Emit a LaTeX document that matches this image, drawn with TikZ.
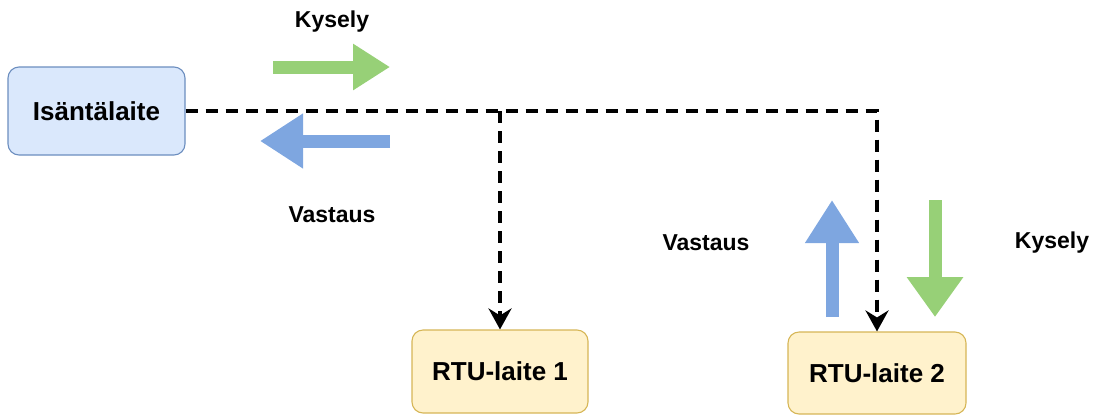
\documentclass[tikz,border=0pt]{standalone}
\usepackage{fontspec}
\setmainfont{Liberation Sans}
\usepackage{xcolor}
\usetikzlibrary{arrows.meta,positioning}
\definecolor{hostfill}{HTML}{DAE8FC}
\definecolor{hostdraw}{HTML}{6C8EBF}
\definecolor{rtufill}{HTML}{FFF2CC}
\definecolor{rtudraw}{HTML}{D6B656}
\definecolor{askgreen}{HTML}{97D077}
\definecolor{replyblue}{HTML}{7EA6E0}

\begin{document}
\begin{tikzpicture}[x=1pt,y=-1pt,
  device/.style={rounded corners=11pt, line width=1.1pt, align=center,
                 font=\fontsize{26}{30}\selectfont\bfseries},
  lbl/.style={font=\fontsize{23}{27}\selectfont\bfseries},
  bus/.style={line width=3.8pt, dash pattern=on 12pt off 8pt,
              -{Stealth[length=21pt,width=23pt,inset=7pt]}},
  fat/.style={line width=13pt}]

\useasboundingbox (0,0) rectangle (1094,416);

\node[device, fill=hostfill, draw=hostdraw, minimum width=177pt, minimum height=88pt]
  (host) at (96.5,111) {Isäntälaite};
\node[device, fill=rtufill, draw=rtudraw, minimum width=176pt, minimum height=83pt]
  (rtu1) at (500,371.5) {RTU-laite 1};
\node[device, fill=rtufill, draw=rtudraw, minimum width=178pt, minimum height=82pt]
  (rtu2) at (877,373) {RTU-laite 2};

\draw[bus] (host.east) -| (rtu2.north);
\draw[bus] (host.east -| rtu1.north) -- (rtu1.north);

\coordinate (askA) at (273,67);
\coordinate (askB) at (390,67);
\coordinate (repA) at (390,141);
\coordinate (repB) at (260,141);
\coordinate (upA) at (832,317);
\coordinate (upB) at (832,200);
\coordinate (downA) at (935,200);
\coordinate (downB) at (935,317);

\draw[fat, askgreen, -{Triangle[length=37pt,width=44pt]}] (askA) -- (askB);
\draw[fat, replyblue, -{Triangle[length=43pt,width=52pt]}] (repA) -- (repB);
\draw[fat, replyblue, -{Triangle[length=43pt,width=51pt]}] (upA) -- (upB);
\draw[fat, askgreen, -{Triangle[length=40pt,width=54pt]}] (downA) -- (downB);

\node[lbl] (ask1) at (332,22) {Kysely};
\node[lbl] (rep1) at (332,215) {Vastaus};
\node[lbl] (rep2) at (706,243) {Vastaus};
\node[lbl] (ask2) at (1052,243) {Kysely};

\end{tikzpicture}
\end{document}
